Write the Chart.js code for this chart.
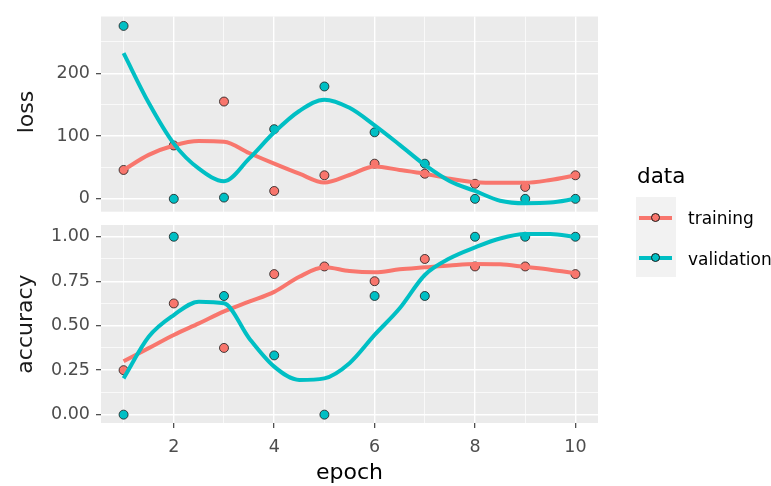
<!DOCTYPE html>
<html>
<head>
<meta charset="utf-8">
<script src="https://cdn.jsdelivr.net/npm/chart.js@4/dist/chart.umd.min.js"></script>
<style>
  html, body { margin: 0; padding: 0; background: #ffffff; }
  #wrap { position: relative; width: 771px; height: 486px; overflow: hidden; font-family: "DejaVu Sans", sans-serif; }
  canvas { position: absolute; left: 0; top: 0; }
  .txt { position: absolute; white-space: nowrap; line-height: 1; }
  .strip { transform: translate(-50%, -50%) rotate(-90deg); font-size: 22px; color: #1A1A1A; }
  .keybg { position: absolute; left: 636px; width: 40px; height: 40px; background: #F2F2F2; }
  .keyline { position: absolute; left: 639px; width: 33px; height: 4px; }
  .keypt { position: absolute; left: 650.5px; width: 9px; height: 9px; border-radius: 50%; border: 0.8px solid #1a1a1a; box-sizing: border-box; }
</style>
</head>
<body>
<div id="wrap">
  <canvas id="lossChart" width="771" height="486"></canvas>
  <canvas id="accChart" width="771" height="486"></canvas>
  <div class="txt strip" style="left:25.5px; top:112px;">loss</div>
  <div class="txt strip" style="left:25px; top:324px;">accuracy</div>
  <div class="txt" style="left:637px; top:165px; font-size:21.5px; color:#000;">data</div>
  <div class="keybg" style="top:197px;"></div>
  <div class="keybg" style="top:237px;"></div>
  <div class="keyline" style="top:215.5px; background:#F8766D;"></div>
  <div class="keypt" style="top:213px; background:#F8766D;"></div>
  <div class="keyline" style="top:255.5px; background:#00BFC4;"></div>
  <div class="keypt" style="top:253px; background:#00BFC4;"></div>
  <div class="txt" style="left:688px; top:209.5px; font-size:17px; color:#000;">training</div>
  <div class="txt" style="left:688px; top:250.5px; font-size:17px; color:#000;">validation</div>
</div>
<script>
// ---------- data ----------
const epochs = [1, 2, 3, 4, 5, 6, 7, 8, 9, 10];
const lossTraining   = [46, 85, 155, 12.5, 37.5, 56, 40, 24, 19, 37.5];
const lossValidation = [275.5, 0, 2, 111, 179, 106, 56, 0, 0, 0];
const accTraining    = [0.25, 0.625, 0.375, 0.79, 0.833, 0.75, 0.875, 0.833, 0.833, 0.79];
const accValidation  = [0, 1, 0.667, 0.333, 0, 0.667, 0.667, 1, 1, 1];

// smoothed curves (at half-epoch steps)
const smoothX = [1, 1.5, 2, 2.5, 3, 3.5, 4, 4.5, 5, 5.5, 6, 6.5, 7, 7.5, 8, 8.5, 9, 9.5, 10];
const lossTrainingSmooth   = [46, 70, 85, 92, 91, 73, 56, 40, 26, 38, 51.5, 46, 40, 32, 26.5, 25.5, 25.5, 30, 37.5];
const lossValidationSmooth = [232, 153, 88, 48, 28, 64, 106, 140, 158, 145, 117, 86, 54, 28, 12.5, -3, -7, -6, 0];
const accTrainingSmooth    = [0.30, 0.374, 0.448, 0.513, 0.58, 0.635, 0.69, 0.775, 0.828, 0.807, 0.80, 0.817, 0.828, 0.839, 0.847, 0.845, 0.83, 0.815, 0.795];
const accValidationSmooth  = [0.204, 0.438, 0.56, 0.635, 0.626, 0.43, 0.27, 0.195, 0.204, 0.289, 0.448, 0.598, 0.785, 0.879, 0.94, 0.99, 1.015, 1.015, 1.0];

const xTicks    = [1, 2, 3, 4, 5, 6, 7, 8, 9, 10];
const lossTicks = [0, 50, 100, 150, 200, 250];
const accTicks  = [0, 0.125, 0.25, 0.375, 0.5, 0.625, 0.75, 0.875, 1];

// ---------- styling ----------
const RED = '#F8766D', TEAL = '#00BFC4';
const TICKFONT = { family: '"DejaVu Sans", sans-serif', size: 17.5 };

function pts(xs, ys) { return xs.map((x, i) => ({ x: x, y: ys[i] })); }

const panelBg = {
  id: 'panelBg',
  beforeDraw(chart) {
    const { ctx, chartArea: a } = chart;
    ctx.save();
    ctx.fillStyle = '#EBEBEB';
    ctx.fillRect(a.left, a.top, a.right - a.left, a.bottom - a.top);
    ctx.restore();
  }
};

function datasets(tr, va, trS, vaS) {
  return [
    { type: 'line', data: pts(smoothX, vaS), borderColor: TEAL, borderWidth: 4, pointRadius: 0,
      fill: false, cubicInterpolationMode: 'monotone', order: 0 },
    { type: 'line', data: pts(smoothX, trS), borderColor: RED, borderWidth: 4, pointRadius: 0,
      fill: false, cubicInterpolationMode: 'monotone', order: 1 },
    { type: 'line', data: pts(epochs, va), showLine: false, pointRadius: 4.5, pointHoverRadius: 4.5,
      pointBackgroundColor: TEAL, pointBorderColor: '#1a1a1a', pointBorderWidth: 0.8, order: 2 },
    { type: 'line', data: pts(epochs, tr), showLine: false, pointRadius: 4.5, pointHoverRadius: 4.5,
      pointBackgroundColor: RED, pointBorderColor: '#1a1a1a', pointBorderWidth: 0.8, order: 3 }
  ];
}

function xScale(showLabels) {
  const isMajor = v => v % 2 === 0;
  return {
    type: 'linear', min: 0.55, max: 10.45,
    afterBuildTicks: s => { s.ticks = xTicks.map(v => ({ value: v })); },
    afterFit: s => { s.height = showLabels ? 63 : 0; },
    border: { display: false },
    grid: {
      color: '#FFFFFF',
      lineWidth: c => (c.tick && isMajor(c.tick.value)) ? 1.4 : 0.7,
      drawTicks: showLabels,
      tickLength: 5,
      tickWidth: 1.1,
      tickColor: c => (c.tick && isMajor(c.tick.value)) ? '#333333' : 'rgba(0,0,0,0)'
    },
    ticks: {
      display: showLabels, autoSkip: false, maxRotation: 0, padding: 9,
      color: '#4D4D4D', font: TICKFONT,
      callback: v => isMajor(v) ? String(v) : ''
    },
    title: {
      display: showLabels, text: 'epoch', color: '#000000',
      font: { family: '"DejaVu Sans", sans-serif', size: 22, lineHeight: 1.2 },
      padding: { top: 0, bottom: 0 }
    }
  };
}

function yScale(min, max, ticks, isMajor, fmt) {
  return {
    type: 'linear', min: min, max: max,
    afterBuildTicks: s => { s.ticks = ticks.map(v => ({ value: v })); },
    afterFit: s => { s.width = 101; },
    border: { display: false },
    grid: {
      color: '#FFFFFF',
      lineWidth: c => (c.tick && isMajor(c.tick.value)) ? 1.4 : 0.7,
      tickLength: 5,
      tickWidth: 1.1,
      tickColor: c => (c.tick && isMajor(c.tick.value)) ? '#333333' : 'rgba(0,0,0,0)'
    },
    ticks: {
      autoSkip: false, padding: 6, color: '#4D4D4D', font: TICKFONT,
      callback: v => isMajor(v) ? fmt(v) : ''
    }
  };
}

const common = {
  responsive: false, animation: false, devicePixelRatio: 1,
  plugins: { legend: { display: false }, tooltip: { enabled: false } },
  events: []
};

new Chart(document.getElementById('lossChart'), {
  type: 'line',
  data: { datasets: datasets(lossTraining, lossValidation, lossTrainingSmooth, lossValidationSmooth) },
  options: Object.assign({}, common, {
    layout: { padding: { left: 0, right: 173, top: 12, bottom: 274.3 } },
    scales: {
      x: xScale(false),
      y: yScale(-20.5, 290.5, lossTicks, v => v % 100 === 0, v => String(v))
    }
  }),
  plugins: [panelBg]
});

new Chart(document.getElementById('accChart'), {
  type: 'line',
  data: { datasets: datasets(accTraining, accValidation, accTrainingSmooth, accValidationSmooth) },
  options: Object.assign({}, common, {
    layout: { padding: { left: 0, right: 173, top: 225, bottom: 0 } },
    scales: {
      x: xScale(true),
      y: yScale(-0.047, 1.066, accTicks,
        v => Math.abs(v * 4 - Math.round(v * 4)) < 1e-6, v => v.toFixed(2))
    }
  }),
  plugins: [panelBg]
});
</script>
</body>
</html>
